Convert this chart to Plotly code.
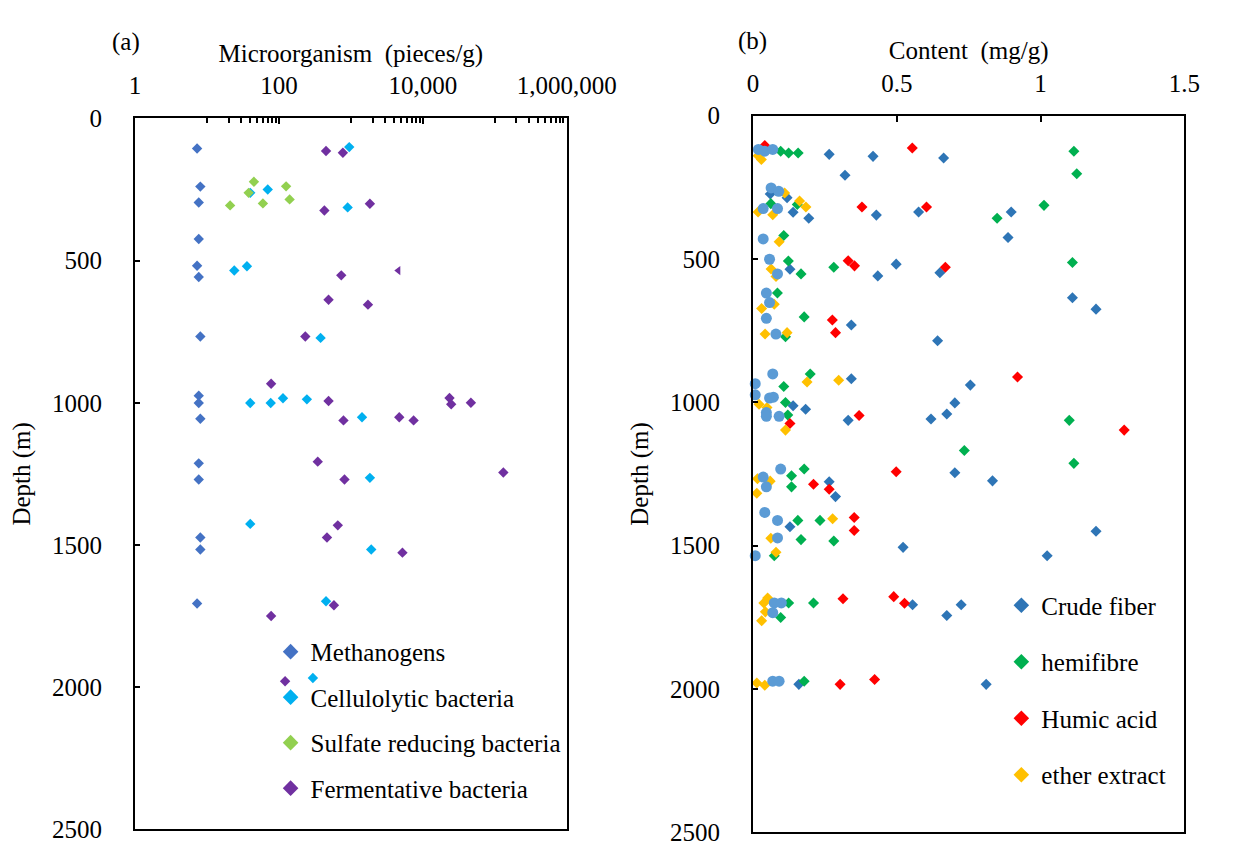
import plotly.graph_objects as go

# ---------------- Panel (a): microorganisms (pieces/g) vs depth (m) ----------------
meth_val = [7.3, 8.1, 7.7, 7.7, 7.3, 7.7, 8.1, 7.7, 7.7, 8.1, 7.7, 7.7, 8.1, 8.1, 7.3]
meth_depth = [106, 240, 296, 424, 518, 558, 767, 975, 1001, 1056, 1213, 1270, 1474, 1516, 1706]

cell_val = [950, 40, 70, 903, 24, 36, 380, 40, 77, 114, 245, 1430, 1840, 40, 1920, 452, 297]
cell_depth = [101, 262, 250, 313, 535, 520, 772, 1001, 1001, 984, 988, 1051, 1264, 1426, 1516, 1698, 1968]

sulf_val = [45, 126, 38, 21, 60, 141]
sulf_depth = [223, 239, 262, 306, 299, 285]

ferm_val = [452, 775, 429, 1840, 736, 4565, 490, 1730, 233, 78, 490, 23500, 24800, 46600,
            790, 4710, 7450, 347, 131600, 816, 659, 466, 5210, 582, 78, 122]
ferm_depth = [115, 121, 324, 300, 552, 535, 638, 655, 767, 933, 994, 983, 1005, 1000,
              1062, 1051, 1062, 1207, 1245, 1270, 1431, 1474, 1527, 1712, 1750, 1979]

# ---------------- Panel (b): content (mg/g) vs depth (m) ----------------
crude_val = [0.265, 0.4175, 0.663, 0.320, 0.060, 0.1185, 0.1395, 0.194, 0.429, 0.576, 0.898, 0.887,
             0.1285, 0.434, 0.498, 0.650, 1.111, 1.193, 0.342, 0.642, 0.342, 0.756, 0.1395, 0.183,
             0.331, 0.619, 0.674, 0.702, 0.265, 0.287, 0.702, 0.833, 0.1285, 0.522, 1.023, 1.193,
             0.555, 0.674, 0.724, 0.1595, 0.811]
crude_depth = [135, 142, 148, 208, 273, 286, 337, 358, 347, 336, 336, 425,
               536, 559, 518, 548, 635, 675, 730, 785, 918, 940, 1012, 1024,
               1063, 1058, 1041, 1002, 1277, 1329, 1246, 1274, 1434, 1506, 1535, 1450,
               1706, 1744, 1706, 1984, 1984]

hemi_val = [0.0963, 0.124, 0.157, 1.116, 1.126, 0.062, 0.154, 1.012, 0.849, 0.107, 0.123, 0.281,
            0.167, 1.111, 0.085, 0.178, 0.113, 0.199, 0.107, 0.113, 0.121, 1.100, 0.735, 1.116,
            0.178, 0.134, 0.134, 0.156, 0.233, 0.167, 0.281, 0.074, 0.124, 0.2105, 0.0963, 0.178]
hemi_depth = [124, 130, 130, 124, 203, 307, 310, 313, 358, 418, 507, 529,
              552, 512, 619, 702, 771, 901, 945, 1001, 1044, 1063, 1168, 1213,
              1233, 1256, 1295, 1412, 1412, 1479, 1484, 1535, 1700, 1700, 1751, 1973]

humic_val = [0.041, 0.554, 0.379, 0.6035, 0.331, 0.353, 0.669, 0.276, 0.287, 0.920, 0.1285, 0.369,
             1.291, 0.498, 0.2105, 0.265, 0.352, 0.352, 0.313, 0.4895, 0.527, 0.303, 0.423]
humic_depth = [104, 113, 319, 319, 506, 524, 529, 713, 757, 912, 1074, 1046,
               1097, 1242, 1286, 1303, 1402, 1447, 1685, 1678, 1701, 1984, 1967]

ether_val = [0.018, 0.029, 0.110, 0.162, 0.184, 0.0177, 0.0687, 0.091, 0.063, 0.080, 0.074, 0.030,
             0.042, 0.1185, 0.298, 0.188, 0.021, 0.0487, 0.113, 0.0155, 0.0598, 0.0133, 0.277,
             0.062, 0.080, 0.0377, 0.051, 0.030, 0.043, 0.0133, 0.041]
ether_depth = [140, 153, 270, 298, 319, 336, 346, 440, 535, 561, 658, 673,
               762, 757, 923, 929, 1007, 1018, 1097, 1267, 1275, 1317, 1406,
               1474, 1523, 1700, 1683, 1762, 1731, 1979, 1987]

circ_val = [0.0188, 0.041, 0.0687, 0.063, 0.0897, 0.0354, 0.0853, 0.0354, 0.0576, 0.0853, 0.0465,
            0.0576, 0.0465, 0.0797, 0.0687, 0.0078, 0.0078, 0.0576, 0.0709, 0.0465, 0.0465, 0.0908,
            0.0963, 0.0354, 0.0465, 0.041, 0.0853, 0.0853, 0.0078, 0.074, 0.0986, 0.0687, 0.0687,
            0.0908]
circ_depth = [118, 124, 118, 252, 264, 324, 324, 430, 501, 552, 619,
              652, 707, 762, 901, 935, 974, 985, 982, 1036, 1049, 1049,
              1233, 1261, 1295, 1384, 1412, 1473, 1535, 1700, 1700, 1734, 1973,
              1973]

a_tickvals = [1, 100, 10000, 1000000]
a_ticktext = ["1", "100", "10,000", "1,000,000"]
a_minor = [10, 20, 30, 40, 50, 60, 70, 80, 90, 1000, 2000, 3000, 4000, 5000, 6000, 7000,
           8000, 9000, 100000, 200000, 300000, 400000, 500000, 600000, 700000, 800000, 900000]
b_tickvals = [0, 0.5, 1, 1.5]
b_ticktext = ["0", "0.5", "1", "1.5"]
depth_ticks = [0, 500, 1000, 1500, 2000, 2500]

FONT = "Liberation Serif"
W, H = 1251, 855

fig = go.Figure()

def add(xv, yv, name, color, xa, ya, legend, size=8, symbol="diamond", showlegend=True):
    fig.add_trace(go.Scatter(
        x=xv, y=yv, mode="markers", name=name,
        marker=dict(symbol=symbol, size=size, color=color, line=dict(width=0)),
        xaxis=xa, yaxis=ya, legend=legend, showlegend=showlegend,
        legendgroup=name, cliponaxis=False))

add(meth_val, meth_depth, "Methanogens", "#4472C4", "x", "y", "legend")
add(cell_val, cell_depth, "Cellulolytic bacteria", "#00B0F0", "x", "y", "legend")
add(sulf_val, sulf_depth, "Sulfate reducing bacteria", "#92D050", "x", "y", "legend")
ferm_sym = ["diamond"] * len(ferm_val)
ferm_sym[5] = "triangle-left"
fig.add_trace(go.Scatter(
    x=ferm_val, y=ferm_depth, mode="markers", name="Fermentative bacteria",
    marker=dict(symbol=ferm_sym, size=8, color="#7030A0", line=dict(width=0)),
    xaxis="x", yaxis="y", legend="legend", legendgroup="ferm", cliponaxis=False))

add(crude_val, crude_depth, "Crude fiber", "#2E75B6", "x2", "y2", "legend2", size=8.5)
add(hemi_val, hemi_depth, "hemifibre", "#00B050", "x2", "y2", "legend2", size=8.5)
add(humic_val, humic_depth, "Humic acid", "#FF0000", "x2", "y2", "legend2", size=8.5)
add(ether_val, ether_depth, "ether extract", "#FFC000", "x2", "y2", "legend2", size=8.5)
add(circ_val, circ_depth, "circles", "#5B9BD5", "x2", "y2", "legend2", size=11,
    symbol="circle", showlegend=False)

tfont = dict(family=FONT, size=25, color="black")
axis_common = dict(showline=True, linewidth=2, linecolor="black", mirror=True,
                   showgrid=False, zeroline=False, ticks="inside", tickwidth=2,
                   tickcolor="black", tickfont=tfont, ticklabeloverflow="allow")

fig.update_layout(
    width=W, height=H, margin=dict(l=0, r=0, t=0, b=0),
    paper_bgcolor="white", plot_bgcolor="white",
    font=tfont,
    showlegend=True,
    xaxis=dict(axis_common, type="log", range=[0, 6], side="top", anchor="y",
               domain=[135 / W, 587 / W], tickmode="array", tickvals=a_tickvals,
               ticktext=a_ticktext, ticklen=6, ticklabelstandoff=12,
               minor=dict(tickmode="array", tickvals=a_minor, ticks="inside", ticklen=5,
                          tickwidth=2, tickcolor="black", showgrid=False),
               title=dict(text="Microorganism\u00a0\u00a0(pieces/g)", standoff=3, font=tfont)),
    yaxis=dict(axis_common, range=[2500, 0], anchor="x", domain=[1 - 843 / H, 1 - 108.8 / H],
               tickmode="array", tickvals=depth_ticks, ticklen=5, ticklabelstandoff=26,
               title=dict(text="Depth (m)", standoff=14, font=tfont)),
    xaxis2=dict(axis_common, range=[0, 1.5], side="top", anchor="y2",
                domain=[782 / W, 1233.5 / W], tickmode="array", tickvals=b_tickvals,
                ticktext=b_ticktext, ticklen=6, ticklabelstandoff=12,
                title=dict(text="Content\u00a0\u00a0(mg/g)", standoff=3, font=tfont)),
    yaxis2=dict(axis_common, range=[2500, 0], anchor="x2", domain=[1 - 846 / H, 1 - 106 / H],
                tickmode="array", tickvals=depth_ticks, ticklen=5, ticklabelstandoff=26,
                title=dict(text="Depth (m)", standoff=14, font=tfont)),
    legend=dict(x=277 / W, y=1 - 636 / H, xanchor="left", yanchor="top",
                bgcolor="rgba(0,0,0,0)", borderwidth=0, tracegroupgap=10,
                font=tfont, itemsizing="constant"),
    legend2=dict(x=1042 / W, y=1 - 588 / H, xanchor="left", yanchor="top",
                 bgcolor="rgba(0,0,0,0)", borderwidth=0, tracegroupgap=21,
                 font=tfont, itemsizing="constant"),
    annotations=[
        dict(text="(a)", x=125.5 / W, y=1 - 30 / H, xref="paper", yref="paper",
             showarrow=False, xanchor="center", yanchor="middle", font=tfont),
        dict(text="(b)", x=781 / W, y=1 - 29 / H, xref="paper", yref="paper",
             showarrow=False, xanchor="center", yanchor="middle", font=tfont),
    ],
)

fig.write_html("out.html")
